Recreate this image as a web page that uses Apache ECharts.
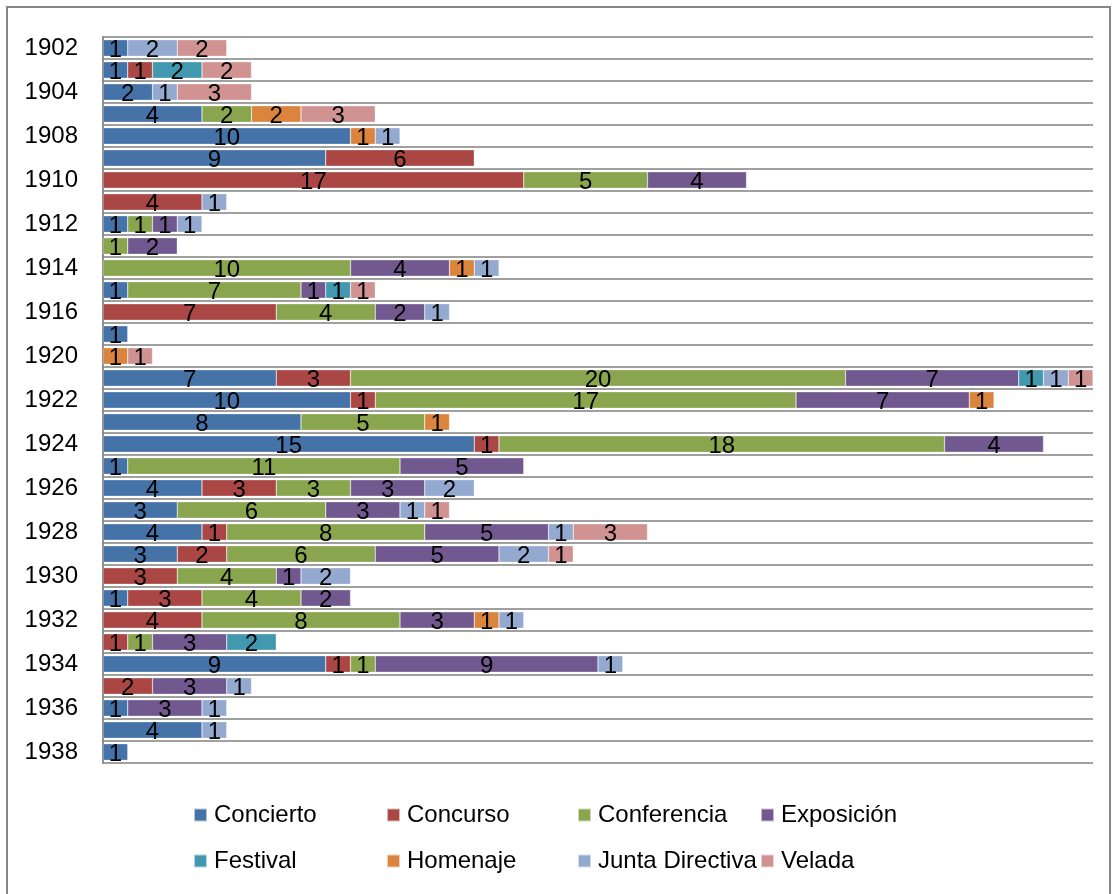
<!DOCTYPE html>
<html>
<head>
<meta charset="utf-8">
<script src="https://cdn.jsdelivr.net/npm/echarts@6/dist/echarts.min.js"></script>
<style>html,body{margin:0;padding:0;background:#fff}#c{width:1113px;height:894px}</style>
</head>
<body>
<div id="c"></div>
<script>
var years = ['1902','1903','1904','1906','1908','1909','1910','1911','1912','1913','1914','1915','1916','1918','1920','1921','1922','1923','1924','1925','1926','1927','1928','1929','1930','1931','1932','1933','1934','1935','1936','1937','1938'];
var seriesNames = ['Concierto','Concurso','Conferencia','Exposición','Festival','Homenaje','Junta Directiva','Velada'];
var colors = ['#4572A7','#AA4643','#89A54E','#71588F','#4198AF','#DB843D','#93A9CF','#D19392'];
var _ = null;
var concierto   = [1,1,2,4,10,9,_,_,1,_,_,1,_,1,_,7,10,8,15,1,4,3,4,3,_,1,_,_,9,_,1,4,1];
var concurso    = [_,1,_,_,_,6,17,4,_,_,_,_,7,_,_,3,1,_,1,_,3,_,1,2,3,3,4,1,1,2,_,_,_];
var conferencia = [_,_,_,2,_,_,5,_,1,1,10,7,4,_,_,20,17,5,18,11,3,6,8,6,4,4,8,1,1,_,_,_,_];
var exposicion  = [_,_,_,_,_,_,4,_,1,2,4,1,2,_,_,7,7,_,4,5,3,3,5,5,1,2,3,3,9,3,3,_,_];
var festival    = [_,2,_,_,_,_,_,_,_,_,_,1,_,_,_,1,_,_,_,_,_,_,_,_,_,_,_,2,_,_,_,_,_];
var homenaje    = [_,_,_,2,1,_,_,_,_,_,1,_,_,_,1,_,1,1,_,_,_,_,_,_,_,_,1,_,_,_,_,_,_];
var junta       = [2,_,1,_,1,_,_,1,1,_,1,_,1,_,_,1,_,_,_,_,2,1,1,2,2,_,1,_,1,1,1,1,_];
var velada      = [2,2,3,3,_,_,_,_,_,_,_,1,_,_,1,1,_,_,_,_,_,1,3,1,_,_,_,_,_,_,_,_,_];
var allData = [concierto, concurso, conferencia, exposicion, festival, homenaje, junta, velada];

var FONT = 'Liberation Sans';
var series = seriesNames.map(function(n, i){
  return {
    name: n, type: 'bar', stack: 'total', data: allData[i],
    barCategoryGap: '25%',
    itemStyle: {color: colors[i], borderColor: 'rgba(255,255,255,0.6)', borderWidth: 0.5},
    label: {show: true, position: 'inside', color: '#000', fontFamily: FONT, fontSize: 24, offset: [0, 2],
      formatter: function(p){ return p.value == null ? '' : p.value; }},
    emphasis: {disabled: true}
  };
});

var legendX = [193, 386, 577, 760];
var legendY = [815, 861];
var legends = seriesNames.map(function(n, i){
  return {
    data: [n], left: legendX[i % 4], top: legendY[Math.floor(i / 4)] - 12,
    padding: 0, icon: 'rect', itemWidth: 13, itemHeight: 13,
    selectedMode: false,
    textStyle: {fontFamily: FONT, fontSize: 24, color: '#000', padding: [0, 0, 0, 2]}
  };
});

var chart = echarts.init(document.getElementById('c'));
chart.setOption({
  animation: false,
  backgroundColor: '#fff',
  color: colors,
  graphic: [{type: 'rect', shape: {x: 7, y: 7, width: 1103, height: 900},
    style: {fill: 'none', stroke: '#878787', lineWidth: 2}, silent: true}],
  legend: legends,
  grid: {left: 103, right: 20, top: 37, bottom: 131, containLabel: false},
  xAxis: {type: 'value', min: 0, max: 40, show: false},
  yAxis: {
    type: 'category', data: years, inverse: true,
    axisLine: {show: true, lineStyle: {color: '#8c8c8c', width: 2}},
    axisTick: {show: false},
    axisLabel: {interval: 1, color: '#000', fontFamily: FONT, fontSize: 24, margin: 25},
    splitLine: {show: true, interval: 0, lineStyle: {color: '#a0a0a0', width: 2}}
  },
  series: series
});
</script>
</body>
</html>
